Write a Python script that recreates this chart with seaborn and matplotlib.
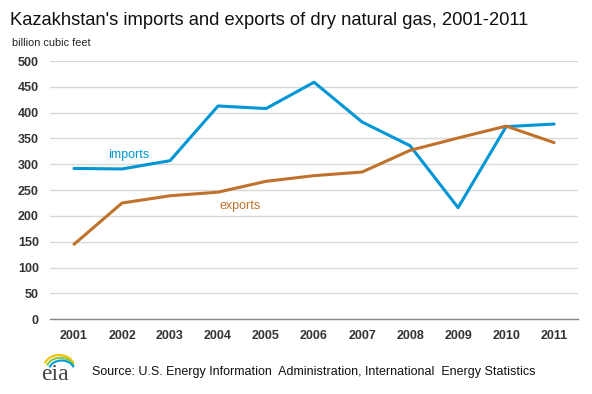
import matplotlib
matplotlib.use("Agg")
import matplotlib.pyplot as plt
from matplotlib.patches import Arc
import numpy as np
import pandas as pd
import seaborn as sns

years = [2001, 2002, 2003, 2004, 2005, 2006, 2007, 2008, 2009, 2010, 2011]
imports = [292, 291, 307, 413, 408, 459, 382, 336, 216, 373, 378]
exports = [145, 225, 239, 246, 267, 278, 285, 327, 351, 374, 342]

blue = "#0096d6"
brown = "#c0722c"

sns.set_style("white")
plt.rcParams["font.family"] = ["Liberation Sans", "DejaVu Sans"]

df = pd.DataFrame({"year": years * 2,
                   "value": imports + exports,
                   "series": ["imports"] * len(years) + ["exports"] * len(years)})

fig = plt.figure(figsize=(5.92, 3.94), dpi=100)
ax = fig.add_axes([0.0845, 0.19, 0.892, 0.655])

sns.lineplot(data=df, x="year", y="value", hue="series",
             palette={"imports": blue, "exports": brown},
             linewidth=2.2, legend=False, ax=ax)

ax.set_xlim(2000.5, 2011.5)
ax.set_ylim(0, 500)
ax.set_xticks(years)
ax.set_xticklabels([str(y) for y in years])
ax.set_yticks(np.arange(0, 501, 50))
ax.set_xlabel("")
ax.set_ylabel("")
ax.grid(axis="y", color="#d9d9d9", linewidth=1)
ax.set_axisbelow(True)
for s in ["top", "right", "left"]:
    ax.spines[s].set_visible(False)
ax.spines["bottom"].set_color("#888888")
ax.spines["bottom"].set_linewidth(1)
ax.tick_params(axis="both", length=0, labelsize=9, colors="#333333")
ax.tick_params(axis="y", pad=8)
ax.tick_params(axis="x", pad=8)
for lab in ax.get_xticklabels() + ax.get_yticklabels():
    lab.set_fontweight("bold")

ax.text(2002.15, 307, "imports", color=blue, fontsize=9, ha="center", va="bottom")
ax.text(2004.45, 207, "exports", color=brown, fontsize=9, ha="center", va="bottom")

fig.text(0.017, 0.947, "Kazakhstan's imports and exports of dry natural gas, 2001-2011",
         fontsize=13.2, color="#111111", va="center")
fig.text(0.02, 0.89, "billion cubic feet", fontsize=7.8, color="#222222", va="center")
fig.text(0.155, 0.056, "Source: U.S. Energy Information  Administration, International  Energy Statistics",
         fontsize=9, color="#111111", va="center")

# eia logo
fig.text(0.093, 0.05, "eia", family="Liberation Serif", fontsize=17, color="#444444",
         ha="center", va="center")
for k, c in enumerate(["#f2c200", "#8dc63f", "#00a0dc"]):
    fig.add_artist(Arc((0.1 + 0.002 * k, 0.066 - 0.004 * k), 0.052 - 0.004 * k, 0.066 - 0.006 * k,
                       theta1=25, theta2=155, transform=fig.transFigure,
                       color=c, linewidth=1.5))

fig.savefig("out.png", dpi=100)
